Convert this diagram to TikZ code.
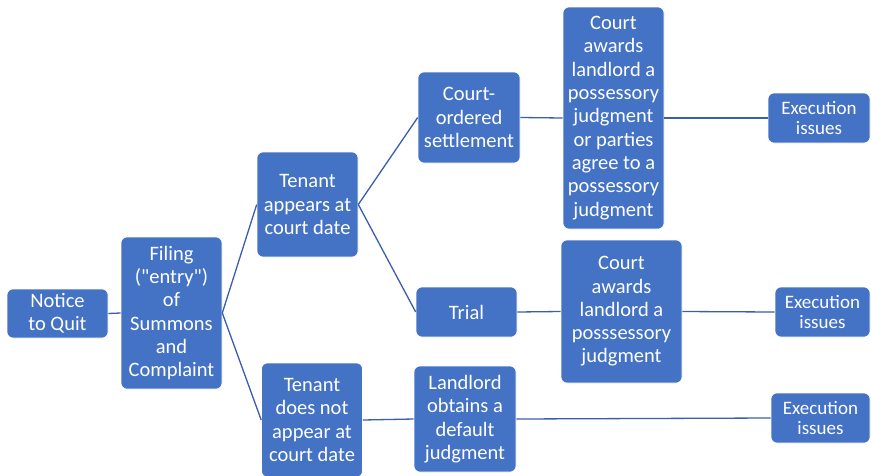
\documentclass[tikz,border=0pt]{standalone}
\usepackage{fontspec}
\setmainfont{Carlito}[Ligatures=TeXOff]
\definecolor{boxblue}{HTML}{4472C4}
\definecolor{lineblue}{HTML}{3A5DAE}
\tikzset{
  box/.style={fill=boxblue, draw=white, line width=0.6pt, rounded corners=6pt,
    text=white, align=center, inner sep=0pt,
    font=\fontsize{20.5}{23.3}\selectfont},
  exec/.style={box, font=\fontsize{19}{20.5}\selectfont},
  link/.style={draw=lineblue, line width=1.3pt}
}
\begin{document}
\begin{tikzpicture}[x=1pt, y=-1pt]
        \useasboundingbox (0,0) rectangle (871,475);
        % first column
        \node[box, minimum width=101pt, minimum height=49pt]  (notice)   at (57.5,313.5) {Notice\\to Quit};
        \node[box, minimum width=101pt, minimum height=152pt] (filing)   at (171.5,313)  {Filing\\("entry")\\of\\Summons\\and\\Complaint};
        % tenant branches
        \node[box, minimum width=101pt, minimum height=105pt] (appears)  at (307.5,204.5) {Tenant\\appears at\\court date};
        \node[box, minimum width=101pt, minimum height=114pt] (absent)   at (312,420)    {Tenant\\does not\\appear at\\court date};
        % outcomes
        \node[box, minimum width=102pt, minimum height=91pt]  (settle)   at (469,117.5)  {Court-\\ordered\\settlement};
        \node[box, minimum width=101pt, minimum height=50pt]  (trial)    at (466.5,312)  {Trial};
        \node[box, minimum width=102pt, minimum height=106pt] (default)  at (465,419)    {Landlord\\obtains a\\default\\judgment};
        \node[box, minimum width=101pt, minimum height=222pt] (awardone) at (613.5,118)  {Court\\awards\\landlord a\\possessory\\judgment\\or parties\\agree to a\\possessory\\judgment};
        \node[box, minimum width=121pt, minimum height=143pt] (awardtwo) at (621.5,311.5) {Court\\awards\\landlord a\\posssessory\\judgment};
        % execution issues
        \node[exec, minimum width=102pt, minimum height=50pt] (execone)   at (819,118)  {Execution\\issues};
        \node[exec, minimum width=95pt, minimum height=50pt]  (exectwo)   at (822.5,312) {Execution\\issues};
        \node[exec, minimum width=99pt, minimum height=50pt]  (execthree) at (820.5,418) {Execution\\issues};
        % connectors
        \draw[link] (notice.east)   -- (filing.west);
        \draw[link] (filing.east)   -- (appears.west);
        \draw[link] (filing.east)   -- (absent.west);
        \draw[link] (appears.east)  -- (settle.west);
        \draw[link] (appears.east)  -- (trial.west);
        \draw[link] (absent.east)   -- (default.west);
        \draw[link] (settle.east)   -- (awardone.west);
        \draw[link] (trial.east)    -- (awardtwo.west);
        \draw[link] (default.east)  -- (execthree.west);
        \draw[link] (awardone.east) -- (execone.west);
        \draw[link] (awardtwo.east) -- (exectwo.west);
\end{tikzpicture}
\end{document}
